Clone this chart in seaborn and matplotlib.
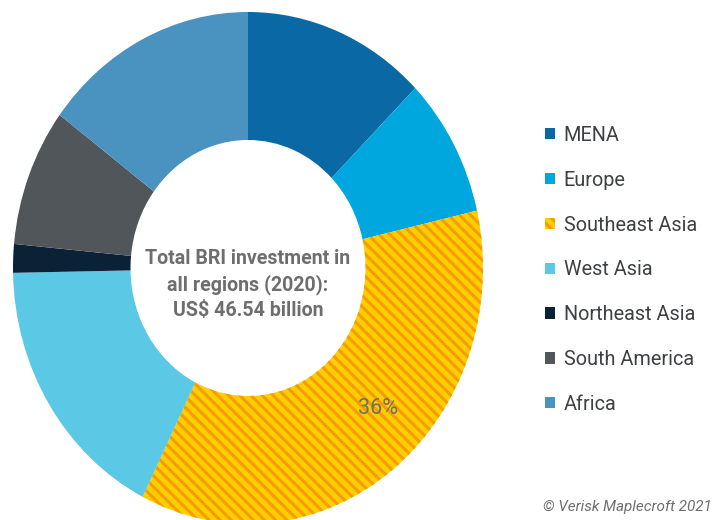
import matplotlib
matplotlib.use('Agg')
import matplotlib.pyplot as plt
import seaborn as sns

sns.set_theme(style='white')
plt.rcParams['font.family'] = ['Roboto', 'DejaVu Sans']
plt.rcParams['hatch.linewidth'] = 2.2

regions = ['MENA', 'Europe', 'Southeast Asia', 'West Asia', 'Northeast Asia', 'South America', 'Africa']
shares = [12.6, 8.8, 36.0, 17.3, 1.8, 8.7, 14.8]
colors = ['#0a68a4', '#00a7de', '#ffce00', '#5bc8e6', '#0b2236', '#50565a', '#4a93c0']
center_text = 'Total BRI investment in\nall regions (2020):\nUS$ 46.54 billion'
credit = '\u00a9 Verisk Maplecroft 2021'

fig = plt.figure(figsize=(7.14, 5.2), dpi=100)
W, H = 714, 520
# the reference donut is slightly stretched vertically
ax = fig.add_axes([13 / W, -4 / H, 470 / W, 512 / H])

wedges, _ = ax.pie(shares, colors=colors, startangle=90, counterclock=False,
                   wedgeprops=dict(width=0.5, linewidth=0))
ax.set_aspect('auto')
ax.set_xlim(-1, 1)
ax.set_ylim(-1, 1)
ax.axis('off')

# hatched yellow/orange stripes for Southeast Asia
sea = wedges[2]
sea.set_hatch('\\\\\\')
sea.set_edgecolor('#f59c00')
sea.set_linewidth(0)

ax.text(0, -0.065, center_text, ha='center', va='center', fontsize=14.1,
        fontweight='bold', color='#6e6e70', linespacing=1.38)
ax.text(0.555, -0.55, '36%', ha='center', va='center', fontsize=15.5,
        color='#6e6e70')

leg = fig.legend(wedges, regions, loc='upper left', bbox_to_anchor=(527 / W, 1 - 108 / H),
                 frameon=False, fontsize=14.3, handlelength=0.5, handleheight=0.5,
                 handletextpad=0.45, labelspacing=1.3, labelcolor='#3f4043')

fig.text(0.997, 1 - 507 / H, credit, ha='right', va='center', fontsize=11,
         style='italic', color='#6e6e70')

plt.savefig('out.png', dpi=100)
